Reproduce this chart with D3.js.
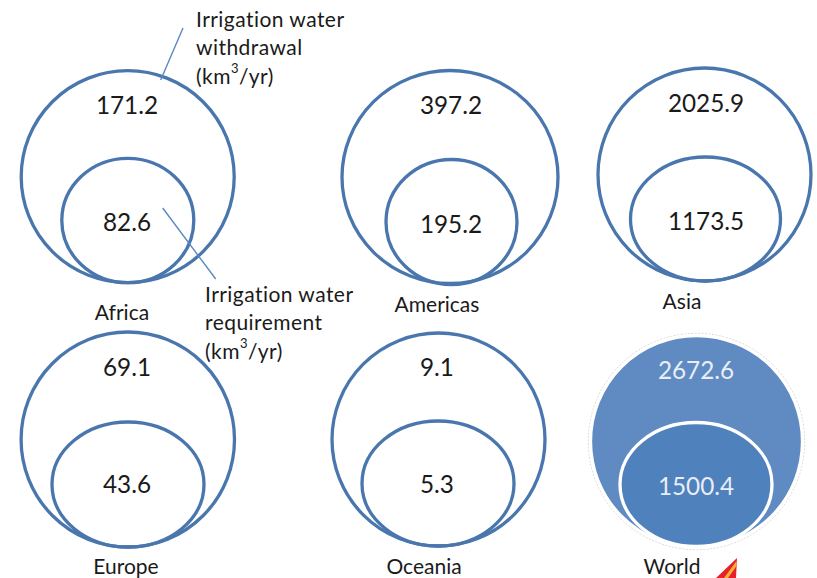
<!DOCTYPE html>
<html>
<head>
<meta charset="utf-8">
<script src="https://cdn.jsdelivr.net/npm/d3@7/dist/d3.min.js"></script>
<style>
html,body{margin:0;background:#fff}
svg{display:block;font-family:Lato,"Open Sans",sans-serif}
</style>
</head>
<body>
<svg id="chart" width="817" height="578"></svg>
<script>
// Irrigation water by region, km3/yr
const regions = ["Africa", "Americas", "Asia", "Europe", "Oceania", "World"];
const withdrawal = ["171.2", "397.2", "2025.9", "69.1", "9.1", "2672.6"];
const requirement = ["82.6", "195.2", "1173.5", "43.6", "5.3", "1500.4"];

// Panel geometry: outer ellipse, inner ellipse, and label anchors
const outerCx = [127.7, 450, 704.5, 127.8, 438.5, 696.5];
const outerCy = [176.7, 177, 174.5, 439.5, 439.5, 441.5];
const outerRx = [106.5, 108, 106.5, 106.7, 106.5, 106];
const outerRy = [106, 106.5, 106.5, 107.5, 106.5, 106];
const innerCx = [127.8, 451.5, 705.5, 128, 438, 696];
const innerCy = [220.5, 222, 219, 484.5, 483.5, 484.5];
const innerRx = [66, 65.5, 75, 76, 76, 76];
const innerRy = [62.2, 62.5, 62, 62.5, 62.5, 62];
const topLabelY = [104, 104, 102, 366, 366, 369];
const midLabelY = [221, 223, 220, 483, 483, 485];
const nameX = [122, 437, 682, 126, 424, 672];
const nameY = [311, 303, 300, 565, 565, 565];
const topLabelX = [127, 451, 706, 127, 437, 696];
const midLabelX = [127, 451, 706, 127, 437, 696];

const blue = "#4a76ae";
const svg = d3.select("#chart");
const idx = d3.range(regions.length);

const panels = svg.selectAll("g.panel").data(idx).join("g").attr("class", "panel");

// Faint hairline around the filled World ellipse
panels.filter(i => regions[i] === "World").append("ellipse")
  .attr("cx", i => outerCx[i]).attr("cy", i => outerCy[i])
  .attr("rx", i => outerRx[i] + 2.2).attr("ry", i => outerRy[i] + 2.2)
  .attr("fill", "none").attr("stroke", "#c9c9c9")
  .attr("stroke-width", 0.7).attr("stroke-dasharray", "2 1.5");

panels.append("ellipse").attr("class", "outer")
  .attr("cx", i => outerCx[i]).attr("cy", i => outerCy[i])
  .attr("rx", i => outerRx[i]).attr("ry", i => outerRy[i])
  .attr("fill", i => regions[i] === "World" ? "#5f8bc2" : "none")
  .attr("stroke", i => regions[i] === "World" ? "#fff" : blue)
  .attr("stroke-width", 3.3);

panels.append("ellipse").attr("class", "inner")
  .attr("cx", i => innerCx[i]).attr("cy", i => innerCy[i])
  .attr("rx", i => innerRx[i]).attr("ry", i => innerRy[i])
  .attr("fill", i => regions[i] === "World" ? "#4f81bd" : "none")
  .attr("stroke", i => regions[i] === "World" ? "#fff" : blue)
  .attr("stroke-width", 3.3);

const valueText = (sel, xs, ys, values) => sel.append("text")
  .attr("x", i => xs[i]).attr("y", i => ys[i])
  .attr("text-anchor", "middle").attr("dominant-baseline", "central")
  .attr("font-size", 24.3)
  .attr("fill", i => regions[i] === "World" ? "#e8eef7" : "#1a1a1a")
  .text(i => values[i]);

valueText(panels, topLabelX, topLabelY, withdrawal);
valueText(panels, midLabelX, midLabelY, requirement);

panels.append("text")
  .attr("x", i => nameX[i]).attr("y", i => nameY[i])
  .attr("text-anchor", "middle").attr("dominant-baseline", "central")
  .attr("font-size", 21).attr("fill", "#1a1a1a")
  .text(i => regions[i]);

// Leader lines to the two callouts
const leaders = [
  [[183, 28], [160.7, 80]],
  [[162.7, 208], [215.7, 279]]
];
svg.selectAll("line.leader").data(leaders).join("line").attr("class", "leader")
  .attr("x1", d => d[0][0]).attr("y1", d => d[0][1])
  .attr("x2", d => d[1][0]).attr("y2", d => d[1][1])
  .attr("stroke", "#5b88bf").attr("stroke-width", 1.4);

// Callout text blocks
const callouts = [
  { x: 196, y: 17.5, lines: ["Irrigation water", "withdrawal", "(km|3|/yr)"] },
  { x: 205, y: 292.5, lines: ["Irrigation water", "requirement", "(km|3|/yr)"] }
];
callouts.forEach(c => {
  c.lines.forEach((line, j) => {
    const t = svg.append("text").attr("x", c.x).attr("y", c.y + j * 28.7)
      .attr("dominant-baseline", "central").attr("font-size", 21)
      .attr("letter-spacing", 0.45).attr("fill", "#1a1a1a");
    line.split("|").forEach((part, k) => {
      const s = t.append("tspan").text(part);
      if (k === 1) s.attr("font-size", 13).attr("dy", -7);
      if (k === 2) s.attr("dy", 7);
    });
  });
});

// Corner of a logo cut off by the bottom edge
svg.append("path").attr("d", d3.line()([[737, 558], [736, 578], [716, 578]]) + "Z").attr("fill", "#e8202a");
svg.append("path").attr("d", d3.line()([[736.5, 561], [724, 578], [728, 578], [736.5, 566]]) + "Z").attr("fill", "#f5b335");
</script>
</body>
</html>
